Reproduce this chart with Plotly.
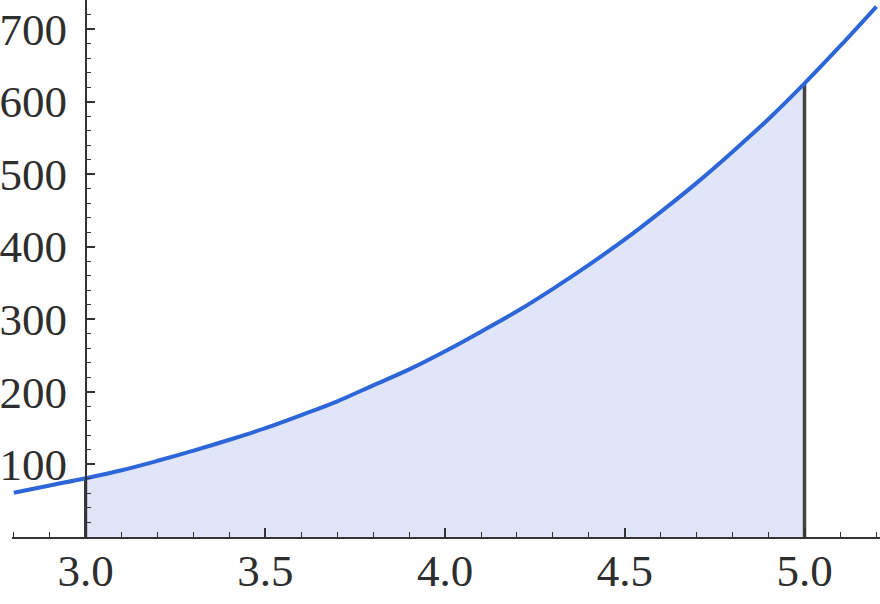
import plotly.graph_objects as go

# values
x_vals = [2.8, 2.9, 3.0, 3.1, 3.2, 3.3, 3.4, 3.5, 3.6, 3.7, 3.8, 3.9, 4.0,
          4.1, 4.2, 4.3, 4.4, 4.5, 4.6, 4.7, 4.8, 4.9, 5.0, 5.1, 5.2]
y_vals = [61, 71, 81, 92, 105, 119, 134, 150, 168, 187, 209, 231, 256,
          283, 311, 342, 375, 410, 448, 488, 531, 576, 625, 677, 731]
fill_from = 3.0
fill_to = 5.0
y_ticks = [100, 200, 300, 400, 500, 600, 700]
x_ticks = [3.0, 3.5, 4.0, 4.5, 5.0]
x_tick_labels = ["3.0", "3.5", "4.0", "4.5", "5.0"]

fx = [x for x in x_vals if fill_from <= x <= fill_to]
fy = [y for x, y in zip(x_vals, y_vals) if fill_from <= x <= fill_to]
y_at_from = y_vals[x_vals.index(fill_from)]
y_at_to = y_vals[x_vals.index(fill_to)]

fig = go.Figure()
fig.add_trace(go.Scatter(x=fx, y=fy, mode="lines", line=dict(width=0, shape="spline"),
                         fill="tozeroy", fillcolor="#e1e5f9", hoverinfo="skip"))
fig.add_trace(go.Scatter(x=[fill_from, fill_from], y=[0, y_at_from], mode="lines",
                         line=dict(color="#111111", width=3)))
fig.add_trace(go.Scatter(x=[fill_to, fill_to], y=[0, y_at_to], mode="lines",
                         line=dict(color="#444444", width=3.5)))
fig.add_trace(go.Scatter(x=x_vals, y=y_vals, mode="lines",
                         line=dict(color="#2d66d8", width=4, shape="spline")))

x0, x1 = 2.795, 5.21
font = dict(family="Liberation Serif, Times New Roman, serif", size=45, color="#2e2e2e")

fig.update_layout(
    width=880, height=604,
    margin=dict(l=12, r=0, t=0, b=67),
    paper_bgcolor="white", plot_bgcolor="white",
    showlegend=False,
    font=font,
    xaxis=dict(range=[x0, x1], showgrid=False, zeroline=False, automargin=False,
               showline=True, linecolor="#333333", linewidth=1.5,
               tickmode="array", tickvals=x_ticks, ticktext=x_tick_labels,
               ticks="inside", ticklen=9, tickwidth=1.5, tickcolor="#333333",
               ticklabelstandoff=-7,
               minor=dict(dtick=0.1, tick0=0, ticks="inside", ticklen=5,
                          tickwidth=1.2, tickcolor="#333333"),
               tickfont=font),
    yaxis=dict(range=[0, 740], showgrid=False, zeroline=False, automargin=False,
               anchor="free", position=(fill_from - x0) / (x1 - x0),
               showline=True, linecolor="#333333", linewidth=1.5,
               tickmode="array", tickvals=y_ticks,
               ticks="inside", ticklen=9, tickwidth=1.5, tickcolor="#333333",
               ticklabelstandoff=9,
               minor=dict(dtick=20, tick0=0, ticks="inside", ticklen=5,
                          tickwidth=1.2, tickcolor="#333333"),
               tickfont=font),
)

fig.write_html("out.html", config={"displayModeBar": False},
               post_script="document.body.style.margin='0';")
